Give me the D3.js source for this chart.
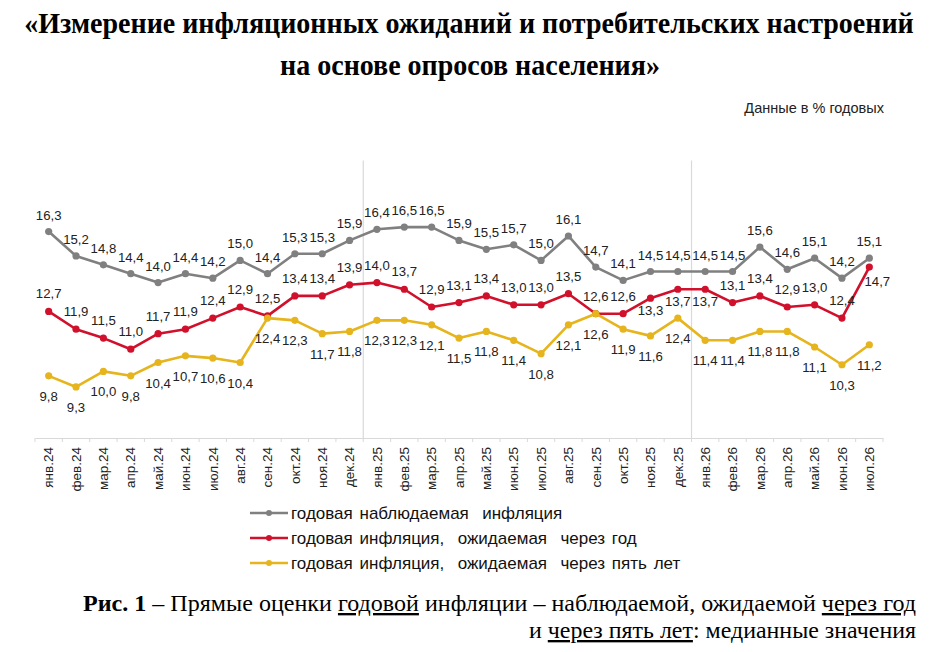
<!DOCTYPE html>
<html>
<head>
<meta charset="utf-8">
<script src="https://cdn.jsdelivr.net/npm/d3@7"></script>
<style>
  body { margin: 0; background: #fff; }
  svg { display: block; }
</style>
</head>
<body>
<div id="chart"></div>
<script>
const months = [
  'янв.24', 'фев.24', 'мар.24', 'апр.24', 'май.24', 'июн.24', 'июл.24', 'авг.24', 'сен.24', 'окт.24', 'ноя.24', 'дек.24',
  'янв.25', 'фев.25', 'мар.25', 'апр.25', 'май.25', 'июн.25', 'июл.25', 'авг.25', 'сен.25', 'окт.25', 'ноя.25', 'дек.25',
  'янв.26', 'фев.26', 'мар.26', 'апр.26', 'май.26', 'июн.26', 'июл.26'
];

// годовая наблюдаемая инфляция
const observed = [16.3, 15.2, 14.8, 14.4, 14.0, 14.4, 14.2, 15.0, 14.4, 15.3, 15.3, 15.9,
                  16.4, 16.5, 16.5, 15.9, 15.5, 15.7, 15.0, 16.1, 14.7, 14.1, 14.5, 14.5,
                  14.5, 14.5, 15.6, 14.6, 15.1, 14.2, 15.1];

// ожидаемая через год
const oneYear = [12.7, 11.9, 11.5, 11.0, 11.7, 11.9, 12.4, 12.9, 12.5, 13.4, 13.4, 13.9,
                 14.0, 13.7, 12.9, 13.1, 13.4, 13.0, 13.0, 13.5, 12.6, 12.6, 13.3, 13.7,
                 13.7, 13.1, 13.4, 12.9, 13.0, 12.4, 14.7];

// ожидаемая через пять лет
const fiveYear = [9.8, 9.3, 10.0, 9.8, 10.4, 10.7, 10.6, 10.4, 12.4, 12.3, 11.7, 11.8,
                  12.3, 12.3, 12.1, 11.5, 11.8, 11.4, 10.8, 12.1, 12.6, 11.9, 11.6, 12.4,
                  11.4, 11.4, 11.8, 11.8, 11.1, 10.3, 11.2];

const seriesNames = [
  'годовая наблюдаемая  инфляция',
  'годовая инфляция,  ожидаемая  через год',
  'годовая инфляция,  ожидаемая  через пять лет'
];

const width  = 929;
const height = 652;
const sans   = '"Liberation Sans", Arial, sans-serif';
const serif  = '"Liberation Serif", "Times New Roman", serif';
const colors = ['#808080', '#d1102c', '#e6b41c'];

const svg = d3.select('#chart').append('svg')
    .attr('width', width)
    .attr('height', height);

// title: fit each line to its width, then stretch vertically (condensed look)
function fitLine(text, cx, baseline, targetW, capSize) {
    const t = svg.append('text')
        .attr('font-family', serif)
        .attr('font-weight', 'bold')
        .attr('font-size', 30)
        .attr('fill', '#000')
        .attr('text-anchor', 'middle')
        .attr('x', 0).attr('y', 0)
        .text(text);
    const w = t.node().getComputedTextLength();
    const size = 30 * targetW / w;
    t.attr('font-size', size)
        .attr('transform', `translate(${cx},${baseline}) scale(1,${capSize / size})`);
}

fitLine('«Измерение инфляционных ожиданий и потребительских настроений', 469, 33, 890, 30);
fitLine('на основе опросов населения»', 470, 75, 380, 30);

svg.append('text')
    .attr('x', 884).attr('y', 113)
    .attr('text-anchor', 'end')
    .attr('font-family', sans)
    .attr('font-size', 14.5)
    .attr('fill', '#222')
    .text('Данные в % годовых');

// scales
const x = d3.scaleBand().domain(months).range([35, 883]);
const y = d3.scaleLinear().domain([7, 19.5]).range([438, 160.5]);
const cx = m => x(m) + x.bandwidth() / 2;

// year separators
[months[12], months[24]].forEach(m => {
    svg.append('line')
        .attr('x1', x(m)).attr('x2', x(m))
        .attr('y1', y(19.5)).attr('y2', y(7))
        .attr('stroke', '#d9d9d9')
        .attr('stroke-width', 1.2);
});

// x axis
const xAxis = svg.append('g')
    .attr('transform', `translate(0,${y(7)})`)
    .call(d3.axisBottom(x).tickSize(0).tickPadding(0));

xAxis.select('.domain').attr('stroke', '#d9d9d9').attr('stroke-width', 1.2);

xAxis.selectAll('.tick-sep')
    .data(months.concat(['end']))
    .enter().append('line')
    .attr('x1', (d, i) => 35 + i * x.bandwidth())
    .attr('x2', (d, i) => 35 + i * x.bandwidth())
    .attr('y1', 0).attr('y2', 4)
    .attr('stroke', '#d9d9d9');

xAxis.selectAll('.tick text')
    .attr('font-family', sans)
    .attr('font-size', 13.5)
    .attr('fill', '#222')
    .attr('text-anchor', 'end')
    .attr('dy', '0.35em')
    .attr('transform', 'translate(0,9) rotate(-90)');

// series
const series = [
    { values: observed, color: colors[0], dy: -12 },
    { values: oneYear,  color: colors[1], dy: -13 },
    { values: fiveYear, color: colors[2], dy: 25 }
];

// red labels that sit under the point
const redBelow = { 22: [0, 17], 23: [0, 17], 24: [0, 17], 30: [8, 19] };

const line = d3.line()
    .x((d, i) => cx(months[i]))
    .y(d => y(d));

const layers = series.map(s => svg.append('g'));

series.slice().reverse().forEach((s, k) => {
    const g = layers[2 - k];
    g.append('path')
        .datum(s.values)
        .attr('fill', 'none')
        .attr('stroke', s.color)
        .attr('stroke-width', 2.6)
        .attr('stroke-linejoin', 'round')
        .attr('d', line);

    g.selectAll('circle')
        .data(s.values)
        .enter().append('circle')
        .attr('cx', (d, i) => cx(months[i]))
        .attr('cy', d => y(d))
        .attr('r', 3.6)
        .attr('fill', s.color);
});

series.forEach((s, k) => {
    svg.append('g')
        .attr('font-family', sans)
        .attr('font-size', 13.2)
        .attr('fill', '#222')
        .attr('text-anchor', 'middle')
        .selectAll('text')
        .data(s.values)
        .enter().append('text')
        .attr('x', (d, i) => cx(months[i]) + (k === 1 && redBelow[i] ? redBelow[i][0] : 0))
        .attr('y', (d, i) => y(d) + (k === 1 && redBelow[i] ? redBelow[i][1] : s.dy))
        .text(d => d.toFixed(1).replace('.', ','));
});

// legend
const legend = svg.append('g')
    .selectAll('g')
    .data(seriesNames)
    .enter().append('g')
    .attr('transform', (d, i) => `translate(250,${513 + i * 25})`);

legend.append('line')
    .attr('x1', 0).attr('x2', 38)
    .attr('stroke', (d, i) => colors[i])
    .attr('stroke-width', 2.6);

legend.append('circle')
    .attr('cx', 19).attr('r', 3)
    .attr('fill', (d, i) => colors[i]);

legend.append('text')
    .attr('x', 41).attr('y', 6)
    .attr('font-family', sans)
    .attr('font-size', 17)
    .attr('fill', '#111')
    .style('white-space', 'pre')
    .style('word-spacing', '2px')
    .text(d => d);

// caption
const caption = svg.append('g')
    .attr('font-family', serif)
    .attr('font-size', 23.5)
    .attr('fill', '#000')
    .attr('text-anchor', 'end');

const cap1 = caption.append('text')
    .attr('x', 916).attr('y', 611)
    .attr('textLength', 833).attr('lengthAdjust', 'spacingAndGlyphs');
cap1.append('tspan').attr('font-weight', 'bold').text('Рис. 1');
cap1.append('tspan').text(' – Прямые оценки ');
cap1.append('tspan').style('text-decoration', 'underline').text('годовой');
cap1.append('tspan').text(' инфляции – наблюдаемой, ожидаемой ');
cap1.append('tspan').style('text-decoration', 'underline').text('через год');

const cap2 = caption.append('text')
    .attr('x', 916).attr('y', 638)
    .attr('textLength', 387).attr('lengthAdjust', 'spacingAndGlyphs');
cap2.append('tspan').text('и ');
cap2.append('tspan').style('text-decoration', 'underline').text('через пять лет');
cap2.append('tspan').text(': медианные значения');
</script>
</body>
</html>
